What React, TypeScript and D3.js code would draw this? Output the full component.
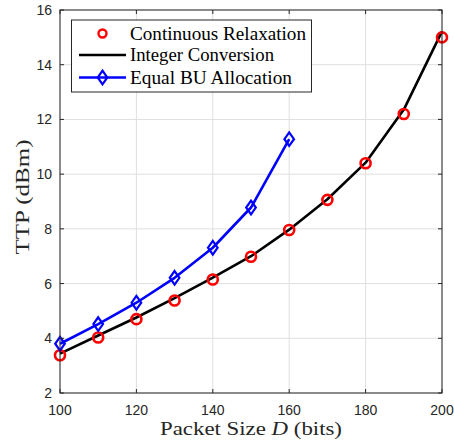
import * as d3 from "d3";

const W = 454;
const H = 440;
const M = { left: 60, right: 12, top: 10, bottom: 47 };

const packetSizes = [100, 110, 120, 130, 140, 150, 160, 170, 180, 190, 200];
const continuous = [3.38, 4.03, 4.7, 5.38, 6.15, 6.98, 7.96, 9.06, 10.4, 12.2, 15.0];
const integerConv = [3.44, 4.1, 4.76, 5.47, 6.22, 7.0, 7.97, 9.08, 10.42, 12.36, 15.22];
const equalSizes = [100, 110, 120, 130, 140, 150, 160];
const equalBU = [3.8, 4.52, 5.3, 6.21, 7.31, 8.78, 11.28];

const xTicks = [100, 120, 140, 160, 180, 200];
const yTicks = [2, 4, 6, 8, 10, 12, 14, 16];

const AXIS = "#262626";
const GRID = "#dfdfdf";
const SERIF = "'Liberation Serif', 'DejaVu Serif', serif";
const SANS = "'Liberation Sans', Arial, sans-serif";

function Diamond({ cx, cy, color }: { cx: number; cy: number; color: string }) {
  const w = 4.8;
  const h = 6.8;
  return (
    <path
      d={`M${cx},${cy - h}L${cx + w},${cy}L${cx},${cy + h}L${cx - w},${cy}Z`}
      fill="none"
      stroke={color}
      strokeWidth={2.2}
    />
  );
}

// serif labels are stretched to the width the LaTeX font takes in the original
function Label({ x, y, len, children, anchor = "start", size = 19 }: any) {
  return (
    <text
      x={x}
      y={y}
      textAnchor={anchor}
      fontSize={size}
      fontFamily={SERIF}
      fill="#000"
      textLength={len}
      lengthAdjust="spacingAndGlyphs"
    >
      {children}
    </text>
  );
}

export default function App() {
  const x = d3.scaleLinear().domain([100, 200]).range([M.left, W - M.right]);
  const y = d3.scaleLinear().domain([2, 16]).range([H - M.bottom, M.top]);
  const line = d3.line<[number, number]>().x((d) => x(d[0])).y((d) => y(d[1]));

  const intPath = line(packetSizes.map((s, i) => [s, integerConv[i]])) ?? "";
  const buPath = line(equalSizes.map((s, i) => [s, equalBU[i]])) ?? "";

  const x0 = x(100), x1 = x(200), y0 = y(2), y1 = y(16);

  return (
    <svg width={W} height={H} style={{ position: "absolute", left: 0, top: 0, background: "#fff" }}>
      {/* grid */}
      {xTicks.map((t) => (
        <line key={`gx${t}`} x1={x(t)} x2={x(t)} y1={y0} y2={y1} stroke={GRID} strokeWidth={1} />
      ))}
      {yTicks.map((t) => (
        <line key={`gy${t}`} x1={x0} x2={x1} y1={y(t)} y2={y(t)} stroke={GRID} strokeWidth={1} />
      ))}

      {/* series */}
      <path d={intPath} fill="none" stroke="#000" strokeWidth={2.6} strokeLinejoin="round" />
      {packetSizes.map((s, i) => (
        <circle key={`c${s}`} cx={x(s)} cy={y(continuous[i])} r={5} fill="none" stroke="#ff0000" strokeWidth={2.6} />
      ))}
      <path d={buPath} fill="none" stroke="#0000ff" strokeWidth={2.6} strokeLinejoin="round" />
      {equalSizes.map((s, i) => (
        <Diamond key={`d${s}`} cx={x(s)} cy={y(equalBU[i])} color="#0000ff" />
      ))}

      {/* box + ticks */}
      <rect x={x0} y={y1} width={x1 - x0} height={y0 - y1} fill="none" stroke={AXIS} strokeWidth={1} />
      {xTicks.map((t) => (
        <g key={`tx${t}`}>
          <line x1={x(t)} x2={x(t)} y1={y0} y2={y0 - 4} stroke={AXIS} />
          <line x1={x(t)} x2={x(t)} y1={y1} y2={y1 + 4} stroke={AXIS} />
          <text x={x(t)} y={y0 + 22} textAnchor="middle" fontSize={14} fontFamily={SANS} fill={AXIS}>
            {t}
          </text>
        </g>
      ))}
      {yTicks.map((t) => (
        <g key={`ty${t}`}>
          <line x1={x0} x2={x0 + 4} y1={y(t)} y2={y(t)} stroke={AXIS} />
          <line x1={x1} x2={x1 - 4} y1={y(t)} y2={y(t)} stroke={AXIS} />
          <text x={x0 - 8} y={y(t) + 5} textAnchor="end" fontSize={14} fontFamily={SANS} fill={AXIS}>
            {t}
          </text>
        </g>
      ))}

      {/* axis labels */}
      <text
        x={160}
        y={435}
        fontSize={19}
        fontFamily={SERIF}
        fill={AXIS}
        textLength={182}
        lengthAdjust="spacingAndGlyphs"
      >
        Packet Size <tspan fontStyle="italic">D</tspan> (bits)
      </text>
      <g transform="translate(29,197) rotate(-90)">
        <text
          x={0}
          y={0}
          textAnchor="middle"
          fontSize={19}
          fontFamily={SERIF}
          fill={AXIS}
          textLength={115}
          lengthAdjust="spacingAndGlyphs"
        >
          TTP (dBm)
        </text>
      </g>

      {/* legend */}
      <g>
        <rect x={71.5} y={20} width={240} height={72} fill="#fff" stroke={AXIS} strokeWidth={1} />
        <circle cx={102.5} cy={33.5} r={4} fill="none" stroke="#ff0000" strokeWidth={2.4} />
        <Label x={130} y={39.5} len={176}>Continuous Relaxation</Label>
        <line x1={79} x2={126} y1={55} y2={55} stroke="#000" strokeWidth={2.6} />
        <Label x={130} y={61} len={144}>Integer Conversion</Label>
        <line x1={79} x2={126} y1={77.5} y2={77.5} stroke="#0000ff" strokeWidth={2.6} />
        <Diamond cx={102.5} cy={77.5} color="#0000ff" />
        <Label x={130} y={83.5} len={162}>Equal BU Allocation</Label>
      </g>
    </svg>
  );
}
